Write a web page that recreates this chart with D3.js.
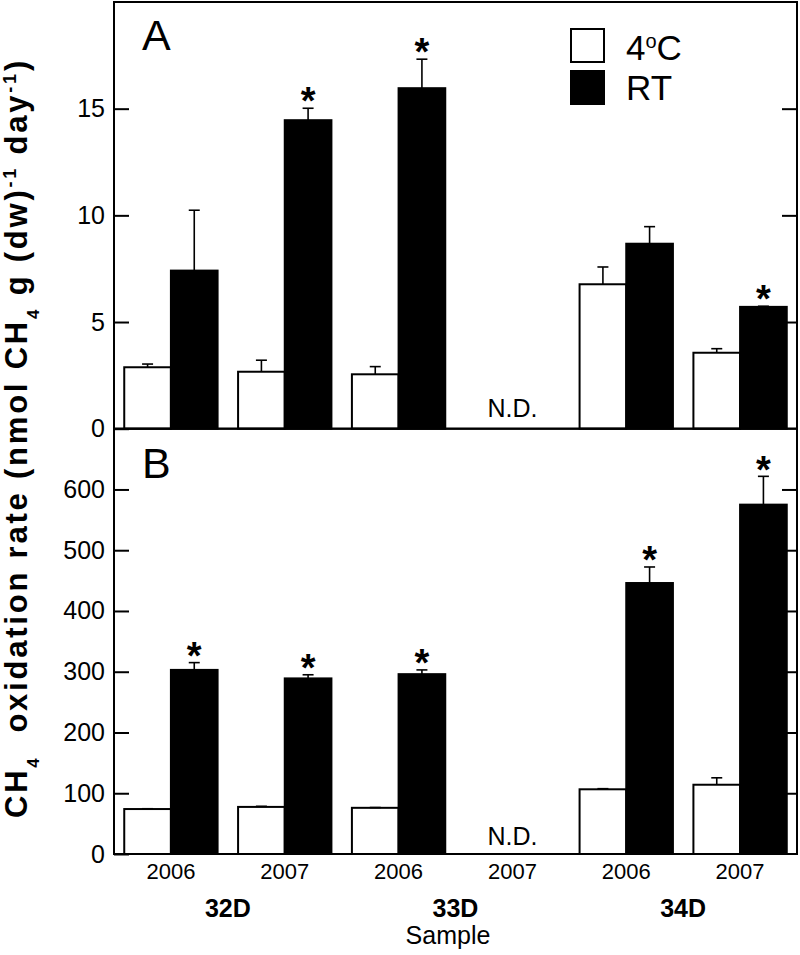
<!DOCTYPE html>
<html>
<head>
<meta charset="utf-8">
<script src="https://cdn.jsdelivr.net/npm/d3@7"></script>
<style>
  html, body { margin: 0; padding: 0; background: #fff; }
  svg { display: block; }
  text { font-family: "Liberation Sans", Arial, Helvetica, sans-serif; fill: #000; }
</style>
</head>
<body>
<svg id="chart" width="800" height="955"></svg>
<script>
// ---------- data ----------
const categories = ["32D-2006", "32D-2007", "33D-2006", "33D-2007", "34D-2006", "34D-2007"];
const years = ["2006", "2007", "2006", "2007", "2006", "2007"];
const sites = ["32D", "33D", "34D"];
const siteOf = ["32D", "32D", "33D", "33D", "34D", "34D"];
const series = ["4oC", "RT"];

// Panel A
const aCold    = [2.88, 2.67, 2.55, null, 6.77, 3.56];
const aColdErr = [0.15, 0.54, 0.36, null, 0.81, 0.19];
const aRT      = [7.41, 14.46, 15.96, null, 8.67, 5.71];
const aRTErr   = [2.83, 0.56, 1.36, null, 0.80, 0.03];
const aSig     = [false, true, true, false, false, true];
const aNDIndex = 3;

// Panel B
const bCold    = [74, 77.5, 76, null, 106.5, 114];
const bColdErr = [0.5, 1, 0.5, null, 1, 11.4];
const bRT      = [303, 289, 296, null, 446, 575];
const bRTErr   = [12, 6, 7, null, 26.4, 46.6];
const bSig     = [true, true, true, false, true, true];
const bNDIndex = 3;

const aTicks = [0, 5, 10, 15];
const bTicks = [0, 100, 200, 300, 400, 500, 600];

// ---------- layout ----------
const svg = d3.select("#chart");
const xL = 114, xR = 797;
const aTop = 2, aBot = 428.7, bBot = 854;

const x = d3.scaleBand().domain(categories).range([xL, xR]).paddingInner(0.18).paddingOuter(0.09);
const xs = d3.scaleBand().domain(series).range([0, x.bandwidth()]);
const yA = d3.scaleLinear().domain([0, 20]).range([aBot, aTop]);
const yB = d3.scaleLinear().domain([0, 700]).range([bBot, aBot]);

function panel(y, cold, coldErr, rt, rtErr, sig, ticks, ndIndex, ndOffset, letter, letterBase) {
  const g = svg.append("g");
  const rows = categories.map((c, i) => ({c, i, cold: cold[i], coldErr: coldErr[i], rt: rt[i], rtErr: rtErr[i], sig: sig[i]}))
                         .filter(d => d.cold !== null);
  const items = [];
  rows.forEach(d => {
    items.push({c: d.c, s: "4oC", v: d.cold, e: d.coldErr, sig: false});
    items.push({c: d.c, s: "RT", v: d.rt, e: d.rtErr, sig: d.sig});
  });
  g.selectAll("rect.bar").data(items).join("rect")
    .attr("class", "bar")
    .attr("x", d => x(d.c) + xs(d.s))
    .attr("width", xs.bandwidth())
    .attr("y", d => y(d.v))
    .attr("height", d => y(0) - y(d.v))
    .attr("fill", d => d.s === "RT" ? "#000" : "#fff")
    .attr("stroke", "#000")
    .attr("stroke-width", 2);
  const cx = d => x(d.c) + xs(d.s) + xs.bandwidth() / 2;
  const eg = g.selectAll("g.err").data(items.filter(d => d.e > 0)).join("g").attr("class", "err");
  eg.append("line").attr("x1", cx).attr("x2", cx).attr("y1", d => y(d.v)).attr("y2", d => y(d.v + d.e))
    .attr("stroke", "#000").attr("stroke-width", 1.6);
  eg.append("line").attr("x1", d => cx(d) - 5.5).attr("x2", d => cx(d) + 5.5)
    .attr("y1", d => y(d.v + d.e)).attr("y2", d => y(d.v + d.e))
    .attr("stroke", "#000").attr("stroke-width", 1.6);
  items.filter(d => d.sig).forEach(d => {
    g.append("text").attr("x", cx(d)).attr("y", y(d.v + d.e) - 9 + 0.40 * 38)
      .attr("text-anchor", "middle").attr("font-size", 38).attr("font-weight", "bold").text("*");
  });
  g.append("text").attr("x", x(categories[ndIndex]) + x.bandwidth() / 2).attr("y", y(0) - ndOffset)
    .attr("text-anchor", "middle").attr("font-size", 25).text("N.D.");
  g.append("rect").attr("x", xL).attr("y", y.range()[1]).attr("width", xR - xL)
    .attr("height", y.range()[0] - y.range()[1])
    .attr("fill", "none").attr("stroke", "#000").attr("stroke-width", 2);
  const la = g.append("g").attr("transform", `translate(${xL},0)`)
    .call(d3.axisLeft(y).tickValues(ticks).tickSizeInner(-15).tickSizeOuter(0).tickPadding(9));
  la.select(".domain").remove();
  la.selectAll("line").attr("stroke-width", 2);
  la.selectAll("text").attr("font-size", 25).attr("font-family", "'Liberation Sans', Arial, sans-serif");
  const ra = g.append("g").attr("transform", `translate(${xR},0)`)
    .call(d3.axisRight(y).tickValues(ticks.filter(t => t > 0)).tickSizeInner(-15).tickSizeOuter(0).tickFormat(""));
  ra.select(".domain").remove();
  ra.selectAll("line").attr("stroke-width", 2);
  g.append("text").attr("x", 142).attr("y", letterBase).attr("font-size", 43).text(letter);
}

panel(yA, aCold, aColdErr, aRT, aRTErr, aSig, aTicks, aNDIndex, 12, "A", 50);
panel(yB, bCold, bColdErr, bRT, bRTErr, bSig, bTicks, bNDIndex, 9, "B", 478);

// x labels: years
svg.append("g").selectAll("text").data(categories).join("text")
  .attr("x", d => x(d) + x.bandwidth() / 2).attr("y", 879)
  .attr("text-anchor", "middle").attr("font-size", 22)
  .text((d, i) => years[i]);
// site labels
svg.append("g").selectAll("text").data(sites).join("text")
  .attr("x", s => {
    const idx = categories.filter((c, i) => siteOf[i] === s);
    return (x(idx[0]) + x(idx[idx.length - 1]) + x.bandwidth()) / 2;
  })
  .attr("y", 917).attr("text-anchor", "middle").attr("font-size", 25).attr("font-weight", "bold")
  .text(s => s);
// x title
svg.append("text").attr("x", 448).attr("y", 944).attr("text-anchor", "middle").attr("font-size", 25).text("Sample");

// y title (rotated, with sub/superscripts)
const yt = svg.append("text").attr("transform", "translate(27,438) rotate(-90)")
  .attr("text-anchor", "middle").attr("font-size", 31).attr("font-weight", "bold")
  .attr("xml:space", "preserve").style("white-space", "pre");
const segs = [
  ["CH", 0], ["4", 1], ["  oxidation rate (nmol CH", 0], ["4", 1], [" g (dw)", 0], ["-1", -1], [" day", 0], ["-1", -1], [")", 0]
];
let cur = 0, nChars = 0;
segs.forEach(([t, k]) => {
  const target = k === 1 ? 12 : (k === -1 ? -11 : 0);
  const ts = yt.append("tspan").attr("dy", target - cur).text(t);
  if (k === 1) ts.attr("font-size", 17);
  if (k === -1) ts.attr("font-size", 18);
  cur = target;
  nChars += t.length;
});
const natural = yt.node().getComputedTextLength();
const wanted = 760;
yt.attr("letter-spacing", Math.max(0, (wanted - natural) / nChars));

// legend
const lg = svg.append("g");
lg.append("rect").attr("x", 571).attr("y", 29).attr("width", 33).attr("height", 33)
  .attr("fill", "#fff").attr("stroke", "#000").attr("stroke-width", 2);
lg.append("rect").attr("x", 570).attr("y", 70).attr("width", 35).attr("height", 35)
  .attr("fill", "#000");
const l1 = lg.append("text").attr("x", 626).attr("y", 60).attr("font-size", 35);
l1.append("tspan").text("4");
l1.append("tspan").attr("dy", -12).attr("font-size", 20).text("o");
l1.append("tspan").attr("dy", 12).text("C");
lg.append("text").attr("x", 626).attr("y", 100).attr("font-size", 35).text("RT");
</script>
</body>
</html>
